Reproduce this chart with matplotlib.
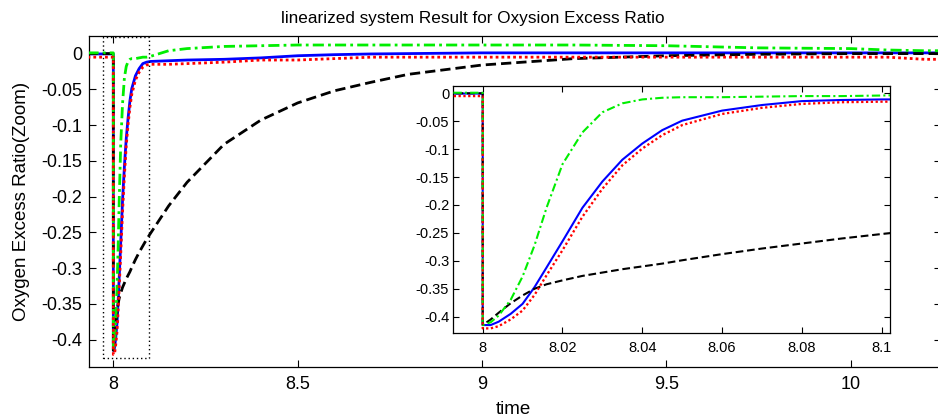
import matplotlib
matplotlib.use('Agg')
import matplotlib.pyplot as plt
from matplotlib.patches import Rectangle

plt.rcParams['font.family'] = ['Liberation Sans', 'DejaVu Sans']

# ---------------- data ----------------
time = [7.93, 8.0, 8.0, 8.002, 8.004, 8.007, 8.01, 8.013, 8.016, 8.02, 8.025, 8.03,
        8.035, 8.04, 8.045, 8.05, 8.06, 8.07, 8.08, 8.09, 8.1, 8.15, 8.2, 8.3, 8.4,
        8.5, 8.6, 8.7, 8.8, 9.0, 9.25, 9.5, 9.75, 10.0, 10.1, 10.2, 10.25]

blue = [-0.0005, -0.0005, -0.415, -0.415, -0.409, -0.395, -0.377, -0.347, -0.312, -0.265,
        -0.205, -0.158, -0.119, -0.090, -0.066, -0.049, -0.031, -0.021, -0.014, -0.012,
        -0.011, -0.010, -0.009, -0.008, -0.006, -0.003, -0.0015, -0.0005, 0.0, 0.001,
        0.001, 0.001, 0.001, 0.001, 0.001, 0.001, 0.001]

red = [-0.005, -0.005, -0.421, -0.421, -0.417, -0.405, -0.389, -0.361, -0.326, -0.281,
       -0.221, -0.171, -0.129, -0.099, -0.075, -0.057, -0.037, -0.026, -0.019, -0.016,
       -0.015, -0.015, -0.014, -0.012, -0.009, -0.009, -0.007, -0.005, -0.005, -0.005,
       -0.005, -0.005, -0.005, -0.005, -0.005, -0.008, -0.008]

green = [0.001, 0.001, -0.415, -0.410, -0.398, -0.370, -0.328, -0.272, -0.205, -0.127,
         -0.070, -0.034, -0.018, -0.011, -0.008, -0.007, -0.007, -0.006, -0.005, -0.005,
         -0.004, 0.004, 0.007, 0.010, 0.011, 0.012, 0.012, 0.012, 0.012, 0.012,
         0.012, 0.011, 0.008, 0.007, 0.005, 0.004, 0.004]

black = [0.0, 0.0, -0.415, -0.405, -0.393, -0.376, -0.362, -0.350, -0.342, -0.335,
         -0.327, -0.321, -0.315, -0.310, -0.305, -0.299, -0.288, -0.278, -0.269, -0.260,
         -0.252, -0.213, -0.180, -0.127, -0.093, -0.069, -0.052, -0.040, -0.029, -0.016,
         -0.007, -0.003, -0.001, 0.0, 0.0, 0.0, 0.0]

main_xticks = [8, 8.5, 9, 9.5, 10]
main_xticklabels = ['8', '8.5', '9', '9.5', '10']
yticks = [0, -0.05, -0.1, -0.15, -0.2, -0.25, -0.3, -0.35, -0.4]
yticklabels = ['0', '-0.05', '-0.1', '-0.15', '-0.2', '-0.25', '-0.3', '-0.35', '-0.4']
inset_xticks = [8, 8.02, 8.04, 8.06, 8.08, 8.1]
inset_xticklabels = ['8', '8.02', '8.04', '8.06', '8.08', '8.1']
zoom_box = (7.972, 8.0968, -0.4264, 0.0232)

title = 'linearized system Result for Oxysion Excess Ratio'
xlabel = 'time'
ylabel = 'Oxygen Excess Ratio(Zoom)'

# ---------------- layout ----------------
W, H = 938, 419
fig = plt.figure(figsize=(W / 100, H / 100), dpi=100)


def box(l, t, r, b):
    return [l / W, 1 - b / H, (r - l) / W, (b - t) / H]


def draw(ax, lw, dd):
    ax.plot(time, blue, color='#0000ff', lw=lw, ls='-', zorder=2)
    ax.plot(time, black, color='black', lw=lw, ls=(0, (3.7, 1.8)), zorder=3)
    ax.plot(time, green, color='#00ee00', lw=lw, ls=(0, (4.0, 1.5, 1.0, 1.5)), zorder=4)
    ax.plot(time, red, color='#ff0000', lw=lw * dd, ls=(0, (1.0, 1.1)), zorder=5)


ax = fig.add_axes(box(89, 36, 941, 366.7))
draw(ax, 2.0, 1.0)
ax.set_xlim(7.934, 8 + (941 - 113.3) / 368.7)
ax.set_ylim(-0.4379, 0.0246)
ax.set_xticks(main_xticks)
ax.set_xticklabels(main_xticklabels)
ax.set_yticks(yticks)
ax.set_yticklabels(yticklabels)
ax.tick_params(direction='in', length=5, width=0.8, top=True, right=True,
               labelsize=13, colors='black')
ax.tick_params(axis='x', pad=7)
ax.tick_params(axis='y', pad=5)
for s in ax.spines.values():
    s.set_linewidth(0.9)
x0, x1, y0, y1 = zoom_box
ax.add_patch(Rectangle((x0, y0), x1 - x0, y1 - y0, fill=False, ec='black',
                       lw=1.0, ls=(0, (1, 2)), zorder=6))

ax2 = fig.add_axes(box(453.3, 85.7, 890, 332.7))
draw(ax2, 1.5, 1.1)
ax2.set_xlim(7.99263, 8.1021)
ax2.set_ylim(-0.4287, 0.0136)
ax2.set_xticks(inset_xticks)
ax2.set_xticklabels(inset_xticklabels)
ax2.set_yticks(yticks)
ax2.set_yticklabels(yticklabels)
ax2.tick_params(direction='in', length=4, width=0.8, top=True, right=True,
                labelsize=10.5, colors='black')
ax2.tick_params(axis='x', pad=6)
ax2.tick_params(axis='y', pad=3)
for s in ax2.spines.values():
    s.set_linewidth(0.9)

fig.text(473 / W, 1 - 19 / H, title, ha='center', va='center', fontsize=12.3)
fig.text(513 / W, 1 - 409 / H, xlabel, ha='center', va='center', fontsize=13.5)
fig.text(22 / W, 1 - 201.5 / H, ylabel, ha='center', va='center', rotation=90, fontsize=13.5)

fig.savefig('out.png', dpi=100)
